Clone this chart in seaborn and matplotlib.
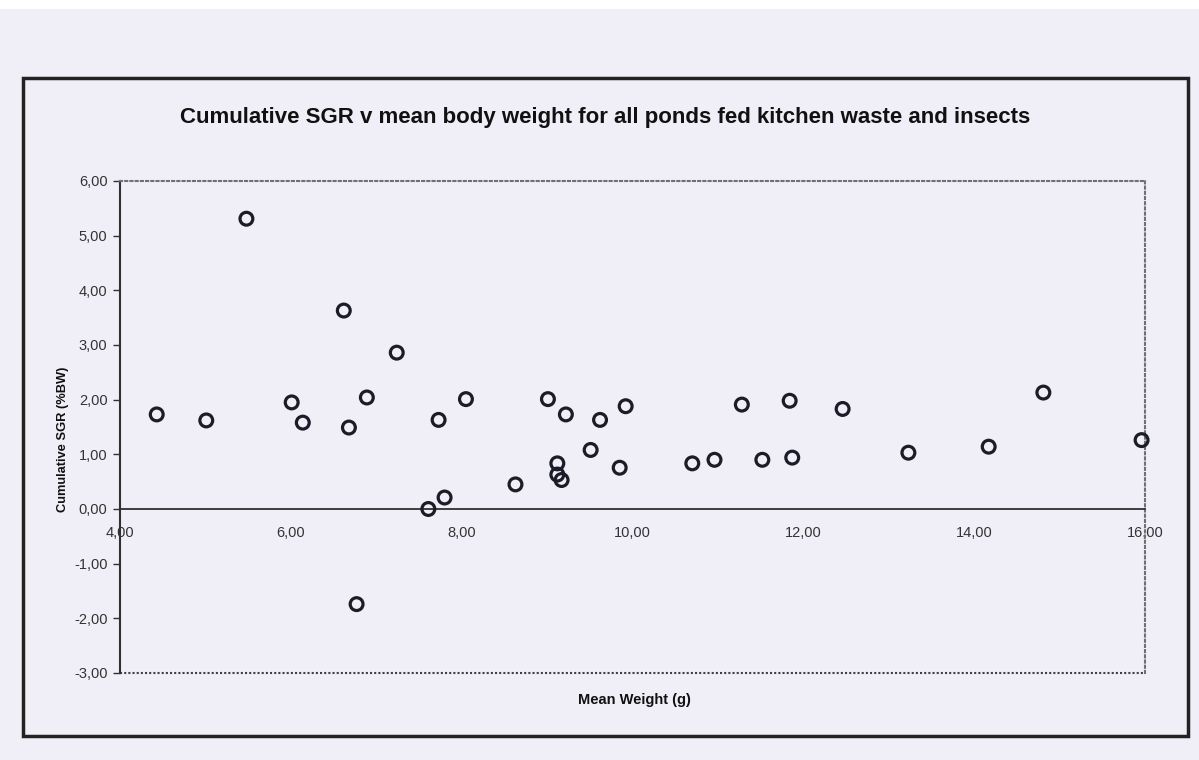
import matplotlib
matplotlib.use("Agg")
import matplotlib.pyplot as plt
from matplotlib.patches import Rectangle
from matplotlib.ticker import FuncFormatter, MultipleLocator
import pandas as pd
import seaborn as sns

# values
mean_weight = [4.43, 5.01, 5.48, 6.01, 6.14, 6.62, 6.68, 6.77, 6.89, 7.24,
               7.61, 7.73, 7.80, 8.05, 8.63, 9.01, 9.12, 9.12, 9.17, 9.22,
               9.51, 9.62, 9.85, 9.92, 10.70, 10.96, 11.28, 11.52, 11.84, 11.87,
               12.46, 13.23, 14.17, 14.81, 15.96]
cum_sgr = [1.73, 1.62, 5.31, 1.95, 1.58, 3.63, 1.49, -1.74, 2.04, 2.86,
           0.00, 1.63, 0.21, 2.01, 0.45, 2.01, 0.835, 0.63, 0.53, 1.73,
           1.08, 1.63, 0.755, 1.88, 0.835, 0.90, 1.91, 0.90, 1.98, 0.94,
           1.83, 1.03, 1.14, 2.13, 1.26]

title = "Cumulative SGR v mean body weight for all ponds fed kitchen waste and insects"
x_label = "Mean Weight (g)"
y_label = "Cumulative SGR (%BW)"

df = pd.DataFrame({"weight": mean_weight, "sgr": cum_sgr})

sns.set_style("white")
plt.rcParams["font.family"] = ["Liberation Sans", "DejaVu Sans"]

BG = "#f0eff8"
INK = "#1c1c28"

W, H = 1199, 760
fig = plt.figure(figsize=(W / 100, H / 100), dpi=100, facecolor=BG)
ax = fig.add_axes([120 / W, 1 - 673 / H, 1025 / W, 492 / H])
ax.set_facecolor(BG)

sns.scatterplot(data=df, x="weight", y="sgr", ax=ax, marker="o", s=85,
                fc="none", ec=INK, linewidth=2.3, zorder=5, clip_on=False)

ax.set_xlim(4, 16)
ax.set_ylim(-3, 6)
ax.xaxis.set_major_locator(MultipleLocator(2))
ax.yaxis.set_major_locator(MultipleLocator(1))
comma = FuncFormatter(lambda v, _: f"{v:.2f}".replace(".", ","))
ax.xaxis.set_major_formatter(comma)
ax.yaxis.set_major_formatter(comma)

# x axis crosses at zero like in Excel
ax.spines["bottom"].set_position(("data", 0))
ax.spines["bottom"].set_color("#303030")
ax.spines["bottom"].set_linewidth(1.3)
ax.spines["left"].set_color("#303030")
ax.spines["left"].set_linewidth(1.5)
for side in ["top", "right"]:
    ax.spines[side].set_linestyle((0, (1, 1.5)))
    ax.spines[side].set_color("#707070")
    ax.spines[side].set_linewidth(1.5)
ax.axhline(-3, color="#404040", lw=1.5, ls=(0, (1, 1)), clip_on=False)

ax.tick_params(axis="x", direction="inout", length=5, width=1, color="#303030",
               pad=10, labelsize=10.5, labelcolor="#333333")
ax.tick_params(axis="y", direction="out", length=5, width=1, color="#303030",
               pad=4, labelsize=10.5, labelcolor="#333333", left=True)

ax.set_xlabel(x_label, fontsize=10.5, fontweight="bold", color="#111111")
ax.xaxis.set_label_coords(0.502, -0.04)
ax.set_ylabel(y_label, fontsize=9.3, fontweight="bold", color="#111111")
ax.yaxis.set_label_coords(-0.056, 0.474)
ax.yaxis.label.set_va("center")

fig.text(605 / W, 1 - 118 / H, title, ha="center", va="center",
         fontsize=16, fontweight="bold", color="#111111")

# scanned page margin and chart frame
fig.patches.append(Rectangle((0, 1 - 9 / H), 1, 9 / H, transform=fig.transFigure,
                             fc="white", ec="none", zorder=0))
fig.patches.append(Rectangle((23 / W, 1 - 736 / H), 1165 / W, 658 / H,
                             transform=fig.transFigure, fill=False,
                             ec="#222222", lw=2.5))

fig.savefig("out.png", dpi=100, facecolor=BG)
